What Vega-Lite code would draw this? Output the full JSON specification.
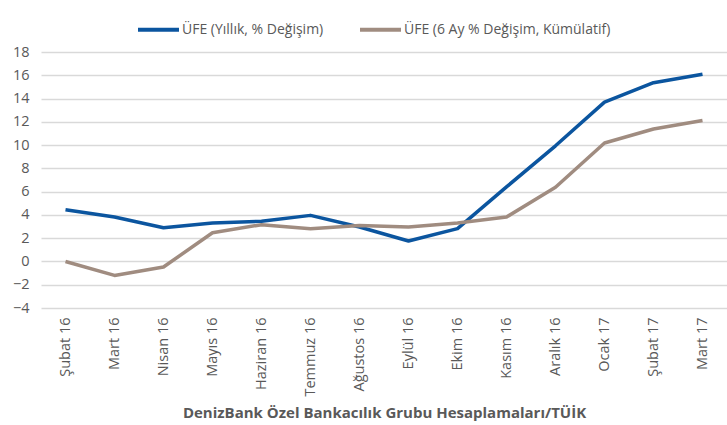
{
  "$schema": "https://vega.github.io/schema/vega-lite/v6.json",
  "width": 686,
  "height": 256,
  "autosize": "none",
  "padding": {"left": 41, "top": 52, "right": 0, "bottom": 117},
  "background": "white",
  "config": {
    "view": {"stroke": null},
    "font": "Open Sans"
  },
  "data": {
    "values": [
      {"month": "Şubat 16", "series": "ÜFE (Yıllık, % Değişim)", "value": 4.45},
      {"month": "Mart 16", "series": "ÜFE (Yıllık, % Değişim)", "value": 3.82},
      {"month": "Nisan 16", "series": "ÜFE (Yıllık, % Değişim)", "value": 2.9},
      {"month": "Mayıs 16", "series": "ÜFE (Yıllık, % Değişim)", "value": 3.3},
      {"month": "Haziran 16", "series": "ÜFE (Yıllık, % Değişim)", "value": 3.45},
      {"month": "Temmuz 16", "series": "ÜFE (Yıllık, % Değişim)", "value": 3.96},
      {"month": "Ağustos 16", "series": "ÜFE (Yıllık, % Değişim)", "value": 2.96},
      {"month": "Eylül 16", "series": "ÜFE (Yıllık, % Değişim)", "value": 1.76},
      {"month": "Ekim 16", "series": "ÜFE (Yıllık, % Değişim)", "value": 2.82},
      {"month": "Kasım 16", "series": "ÜFE (Yıllık, % Değişim)", "value": 6.41},
      {"month": "Aralık 16", "series": "ÜFE (Yıllık, % Değişim)", "value": 9.94},
      {"month": "Ocak 17", "series": "ÜFE (Yıllık, % Değişim)", "value": 13.69},
      {"month": "Şubat 17", "series": "ÜFE (Yıllık, % Değişim)", "value": 15.36},
      {"month": "Mart 17", "series": "ÜFE (Yıllık, % Değişim)", "value": 16.09},
      {"month": "Şubat 16", "series": "ÜFE (6 Ay % Değişim, Kümülatif)", "value": 0.0},
      {"month": "Mart 16", "series": "ÜFE (6 Ay % Değişim, Kümülatif)", "value": -1.2},
      {"month": "Nisan 16", "series": "ÜFE (6 Ay % Değişim, Kümülatif)", "value": -0.48},
      {"month": "Mayıs 16", "series": "ÜFE (6 Ay % Değişim, Kümülatif)", "value": 2.47},
      {"month": "Haziran 16", "series": "ÜFE (6 Ay % Değişim, Kümülatif)", "value": 3.16},
      {"month": "Temmuz 16", "series": "ÜFE (6 Ay % Değişim, Kümülatif)", "value": 2.82},
      {"month": "Ağustos 16", "series": "ÜFE (6 Ay % Değişim, Kümülatif)", "value": 3.1},
      {"month": "Eylül 16", "series": "ÜFE (6 Ay % Değişim, Kümülatif)", "value": 2.96},
      {"month": "Ekim 16", "series": "ÜFE (6 Ay % Değişim, Kümülatif)", "value": 3.3},
      {"month": "Kasım 16", "series": "ÜFE (6 Ay % Değişim, Kümülatif)", "value": 3.82},
      {"month": "Aralık 16", "series": "ÜFE (6 Ay % Değişim, Kümülatif)", "value": 6.38},
      {"month": "Ocak 17", "series": "ÜFE (6 Ay % Değişim, Kümülatif)", "value": 10.18},
      {"month": "Şubat 17", "series": "ÜFE (6 Ay % Değişim, Kümülatif)", "value": 11.38},
      {"month": "Mart 17", "series": "ÜFE (6 Ay % Değişim, Kümülatif)", "value": 12.12}
    ]
  },
  "mark": {"type": "line", "strokeWidth": 3.5, "strokeJoin": "round", "strokeCap": "butt"},
  "encoding": {
    "x": {
      "field": "month",
      "type": "ordinal",
      "sort": ["Şubat 16", "Mart 16", "Nisan 16", "Mayıs 16", "Haziran 16", "Temmuz 16", "Ağustos 16", "Eylül 16", "Ekim 16", "Kasım 16", "Aralık 16", "Ocak 17", "Şubat 17", "Mart 17"],
      "scale": {"type": "point", "padding": 0.5},
      "axis": {
        "title": "DenizBank Özel Bankacılık Grubu Hesaplamaları/TÜİK",
        "titleFontSize": 15,
        "titleFontWeight": "bold",
        "titleColor": "#595959",
        "titlePadding": 9,
        "labelAngle": -90,
        "labelAlign": "right",
        "labelBaseline": "middle",
        "labelFontSize": 14.5,
        "labelColor": "#595959",
        "labelPadding": 9,
        "labelLimit": 0,
        "domain": false,
        "ticks": false,
        "grid": false
      }
    },
    "y": {
      "field": "value",
      "type": "quantitative",
      "scale": {"domain": [-4, 18], "nice": false, "zero": false},
      "axis": {
        "title": null,
        "values": [-4, -2, 0, 2, 4, 6, 8, 10, 12, 14, 16, 18],
        "labelFontSize": 14.5,
        "labelColor": "#595959",
        "labelPadding": 12,
        "domain": false,
        "ticks": false,
        "grid": true,
        "gridColor": "#d9d9d9",
        "gridWidth": 1.5
      }
    },
    "color": {
      "field": "series",
      "type": "nominal",
      "sort": ["ÜFE (Yıllık, % Değişim)", "ÜFE (6 Ay % Değişim, Kümülatif)"],
      "scale": {
        "domain": ["ÜFE (Yıllık, % Değişim)", "ÜFE (6 Ay % Değişim, Kümülatif)"],
        "range": ["#0b559f", "#a08c80"]
      },
      "legend": {
        "title": null,
        "orient": "none",
        "direction": "horizontal",
        "legendX": 95,
        "legendY": -45,
        "symbolType": "stroke",
        "symbolSize": 1680,
        "symbolStrokeWidth": 4,
        "labelFontSize": 14,
        "labelColor": "#595959",
        "labelOffset": 1,
        "labelLimit": 0,
        "columnPadding": 28
      }
    }
  }
}
